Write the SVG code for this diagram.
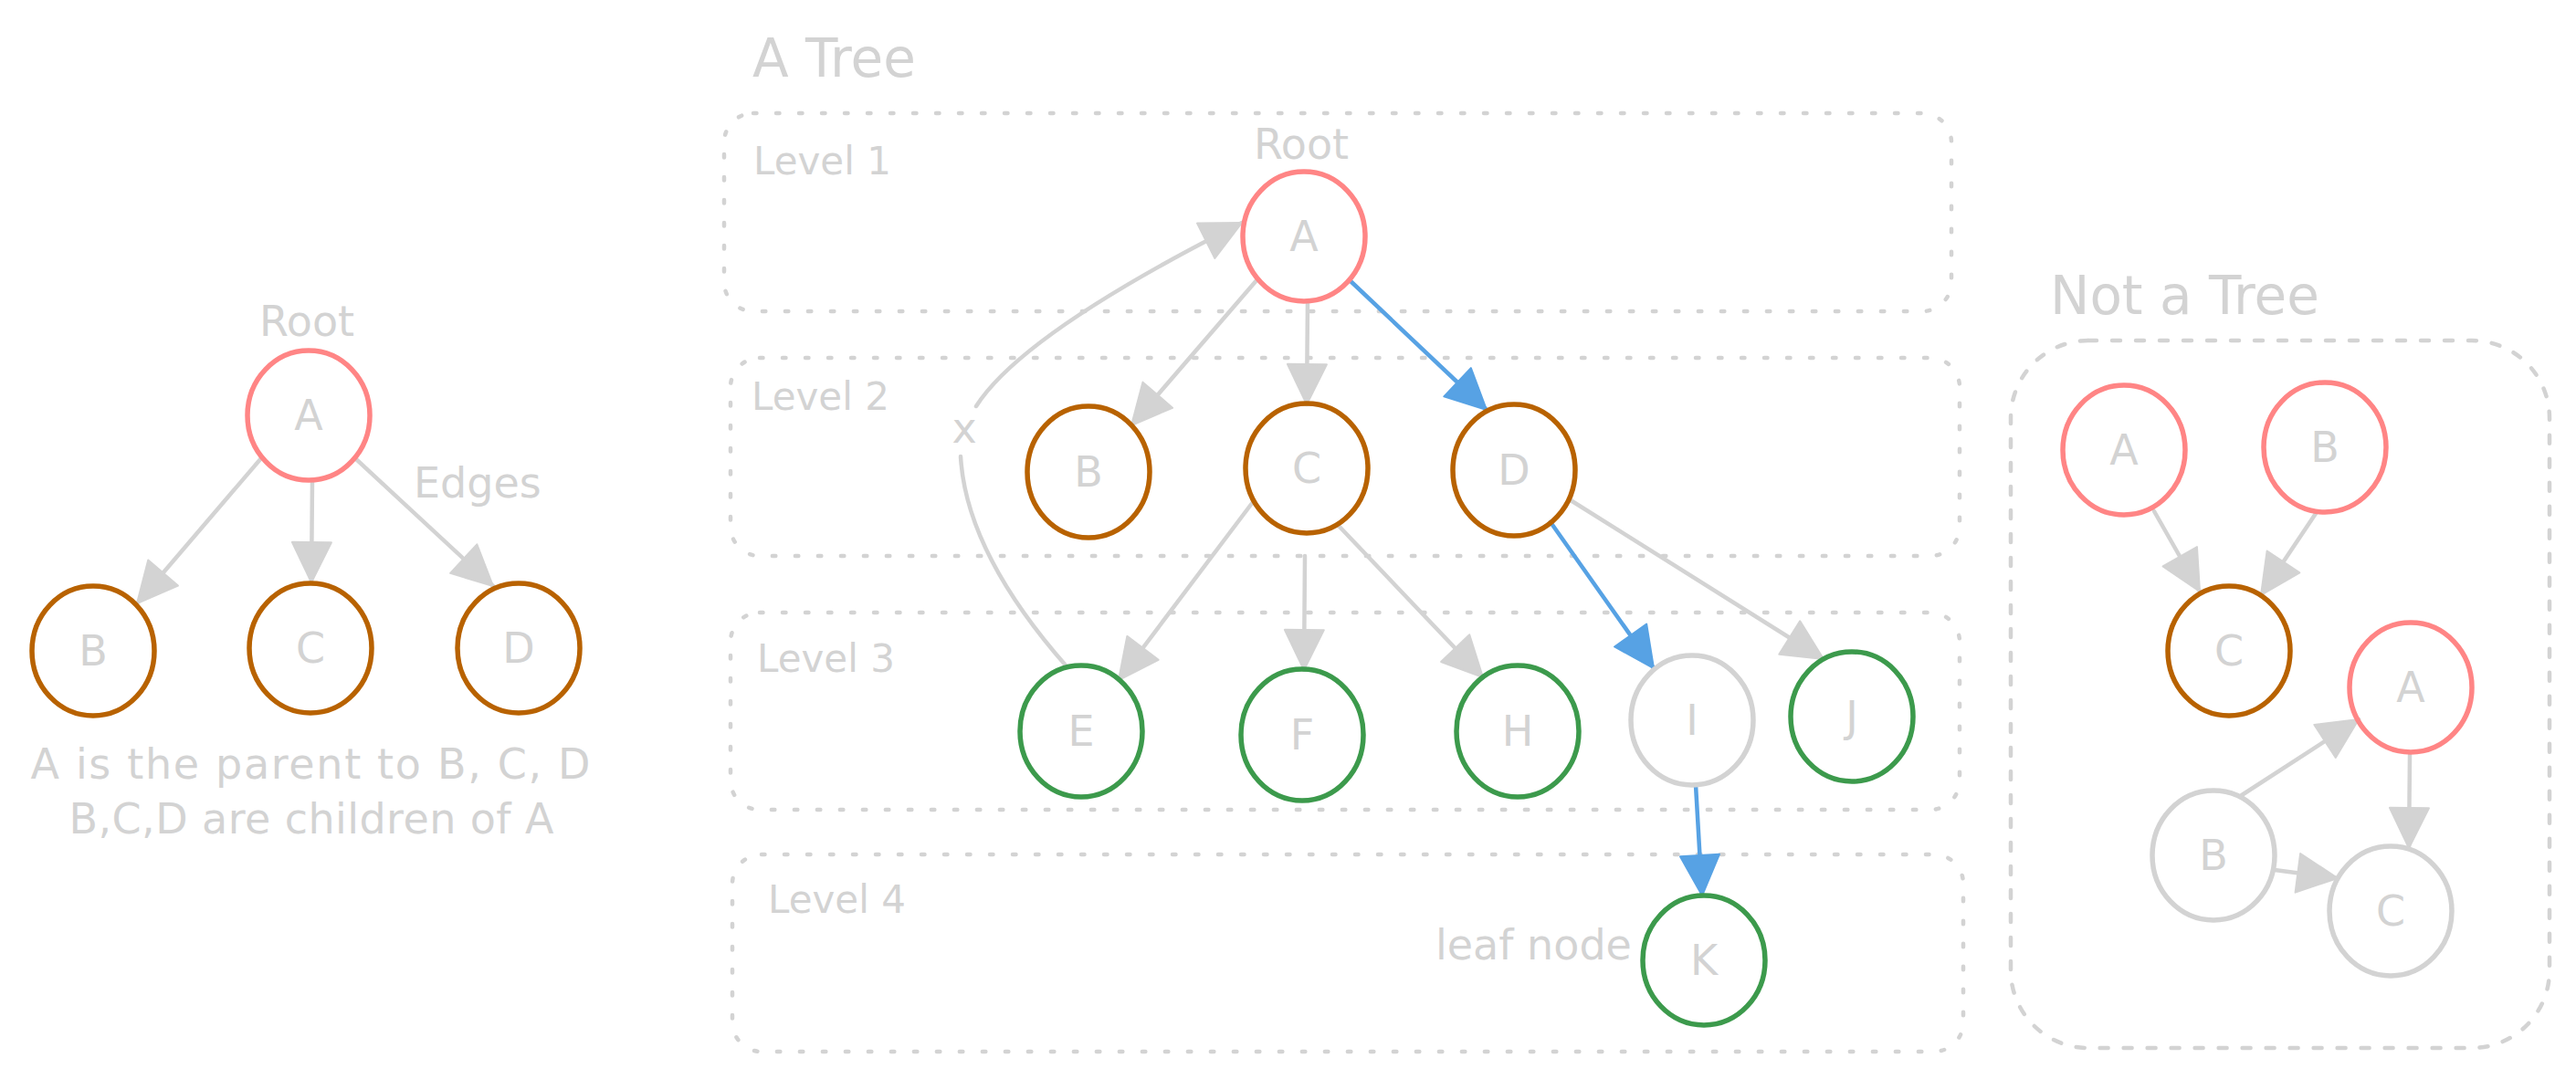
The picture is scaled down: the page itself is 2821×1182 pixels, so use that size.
<svg xmlns="http://www.w3.org/2000/svg" width="2821" height="1182" viewBox="0 0 2821 1182">
<style>
.bg{fill:#ffffff}
.n{fill:none;stroke-width:5.5}
.red{stroke:#ff8585}
.brown{stroke:#b86200}
.green{stroke:#3c9a4c}
.grey{stroke:#d3d3d3}
.t{font-family:"DejaVu Sans","Liberation Sans",sans-serif;fill:#d3d3d3;font-size:46px}
.c{text-anchor:middle}
.lvl{font-size:42px}
.title{font-size:58px}
.box{fill:none;stroke:#d3d3d3;stroke-width:4.5;stroke-linecap:round;stroke-dasharray:3.5 21.5}
.dash{fill:none;stroke:#d3d3d3;stroke-width:4.5;stroke-linecap:round;stroke-dasharray:9 17}
.e{fill:none;stroke:#d3d3d3;stroke-width:4.5;stroke-linecap:round}
.eb{fill:none;stroke:#57a2e4;stroke-width:4.5;stroke-linecap:round}
.ga{marker-end:url(#ag)}
.ba{marker-end:url(#ab)}
</style>
<defs>
<marker id="ag" markerUnits="userSpaceOnUse" markerWidth="46" markerHeight="46" viewBox="0 0 46 46" refX="44" refY="21.5" orient="auto" overflow="visible">
<path d="M0,0 L44,21.5 L0,43 Z" fill="#d3d3d3" stroke="#d3d3d3" stroke-width="2" stroke-linejoin="round"/>
</marker>
<marker id="ab" markerUnits="userSpaceOnUse" markerWidth="46" markerHeight="46" viewBox="0 0 46 46" refX="44" refY="21.5" orient="auto" overflow="visible">
<path d="M0,0 L44,21.5 L0,43 Z" fill="#57a2e4" stroke="#57a2e4" stroke-width="2" stroke-linejoin="round"/>
</marker>
</defs>
<rect class="bg" x="0" y="0" width="2821" height="1182"/>

<!-- containers / labels -->
<g id="level-boxes">
<rect class="box" x="793" y="124" width="1344" height="217" rx="32"/>
<rect class="box" x="800" y="392" width="1346" height="217" rx="32"/>
<rect class="box" x="800" y="671" width="1346" height="216" rx="32"/>
<rect class="box" x="802" y="936" width="1348" height="216" rx="32"/>
<rect class="dash" x="2202" y="373" width="590" height="775" rx="85"/>
</g>
<g id="labels">
<text class="t title" x="824" y="84">A Tree</text>
<text class="t title" x="2245" y="344">Not a Tree</text>
<text class="t lvl" x="825" y="191">Level 1</text>
<text class="t lvl" x="823" y="449">Level 2</text>
<text class="t lvl" x="829" y="736">Level 3</text>
<text class="t lvl" x="841" y="1000">Level 4</text>
<text class="t c" x="336" y="368">Root</text>
<text class="t c" x="1425" y="174">Root</text>
<text class="t" x="453" y="545">Edges</text>
<text class="t" x="1572" y="1051">leaf node</text>
<text class="t c" x="1056" y="485">x</text>
<text class="t c" x="340" y="853" textLength="613" lengthAdjust="spacing">A is the parent to B, C, D</text>
<text class="t c" x="341" y="913" textLength="531" lengthAdjust="spacing">B,C,D are children of A</text>
</g>

<!-- connectors -->
<g id="connectors">
<line class="e ga" x1="286" y1="502" x2="150" y2="661"/>
<line class="e ga" x1="342" y1="526" x2="341" y2="638"/>
<line class="e ga" x1="390" y1="503" x2="540" y2="642"/>

<path class="e ga" d="M1069,445 Q1120,365 1360,244"/>
<path class="e" d="M1052,500 Q1058,605 1168,730"/>
<line class="e ga" x1="1377" y1="306" x2="1239" y2="466"/>
<line class="e ga" x1="1432" y1="330" x2="1431" y2="443"/>
<line class="eb ba" x1="1478" y1="307" x2="1628" y2="449"/>
<line class="e ga" x1="1372" y1="550" x2="1225" y2="745"/>
<line class="e ga" x1="1429" y1="609" x2="1428" y2="734"/>
<line class="e ga" x1="1466" y1="576" x2="1624" y2="742"/>
<line class="eb ba" x1="1698" y1="572" x2="1811" y2="732"/>
<line class="e ga" x1="1720" y1="548" x2="1997" y2="722"/>
<line class="eb ba" x1="1857" y1="860" x2="1864" y2="981"/>

<line class="e ga" x1="2359" y1="560" x2="2409" y2="648"/>
<line class="e ga" x1="2537" y1="561" x2="2476" y2="652"/>
<line class="e ga" x1="2455" y1="871" x2="2583" y2="788"/>
<line class="e ga" x1="2639" y1="827" x2="2638" y2="929"/>
<line class="e ga" x1="2491" y1="953" x2="2560" y2="962"/>
</g>

<!-- left tree -->
<g id="left-A"><ellipse class="n red" cx="338" cy="455" rx="67" ry="71"/><text class="t c" x="338" y="471">A</text></g>
<g id="left-B"><ellipse class="n brown" cx="102" cy="713" rx="67" ry="71"/><text class="t c" x="102" y="729">B</text></g>
<g id="left-C"><ellipse class="n brown" cx="340" cy="710" rx="67" ry="71"/><text class="t c" x="340" y="726">C</text></g>
<g id="left-D"><ellipse class="n brown" cx="568" cy="710" rx="67" ry="71"/><text class="t c" x="568" y="726">D</text></g>

<!-- middle tree -->
<g id="tree-A"><ellipse class="n red" cx="1428" cy="259" rx="67" ry="71"/><text class="t c" x="1428" y="275">A</text></g>
<g id="tree-B"><ellipse class="n brown" cx="1192" cy="517" rx="67" ry="72"/><text class="t c" x="1192" y="533">B</text></g>
<g id="tree-C"><ellipse class="n brown" cx="1431" cy="513" rx="67" ry="71"/><text class="t c" x="1431" y="529">C</text></g>
<g id="tree-D"><ellipse class="n brown" cx="1658" cy="515" rx="67" ry="72"/><text class="t c" x="1658" y="531">D</text></g>
<g id="tree-E"><ellipse class="n green" cx="1184" cy="801" rx="67" ry="72"/><text class="t c" x="1184" y="817">E</text></g>
<g id="tree-F"><ellipse class="n green" cx="1426" cy="805" rx="67" ry="72"/><text class="t c" x="1426" y="821">F</text></g>
<g id="tree-H"><ellipse class="n green" cx="1662" cy="801" rx="67" ry="72"/><text class="t c" x="1662" y="817">H</text></g>
<g id="tree-I"><ellipse class="n grey" cx="1853" cy="789" rx="67" ry="71"/><text class="t c" x="1853" y="805">I</text></g>
<g id="tree-J"><ellipse class="n green" cx="2028" cy="785" rx="67" ry="71"/><text class="t c" x="2028" y="801">J</text></g>
<g id="tree-K"><ellipse class="n green" cx="1866" cy="1052" rx="67" ry="71"/><text class="t c" x="1866" y="1068">K</text></g>

<!-- not a tree -->
<g id="nt-A"><ellipse class="n red" cx="2326" cy="493" rx="67" ry="71"/><text class="t c" x="2326" y="509">A</text></g>
<g id="nt-B"><ellipse class="n red" cx="2546" cy="490" rx="67" ry="71"/><text class="t c" x="2546" y="506">B</text></g>
<g id="nt-C"><ellipse class="n brown" cx="2441" cy="713" rx="67" ry="71"/><text class="t c" x="2441" y="729">C</text></g>
<g id="nt-A2"><ellipse class="n red" cx="2640" cy="753" rx="67" ry="71"/><text class="t c" x="2640" y="769">A</text></g>
<g id="nt-B2"><ellipse class="n grey" cx="2424" cy="937" rx="67" ry="71"/><text class="t c" x="2424" y="953">B</text></g>
<g id="nt-C2"><ellipse class="n grey" cx="2618" cy="998" rx="67" ry="71"/><text class="t c" x="2618" y="1014">C</text></g>
</svg>
